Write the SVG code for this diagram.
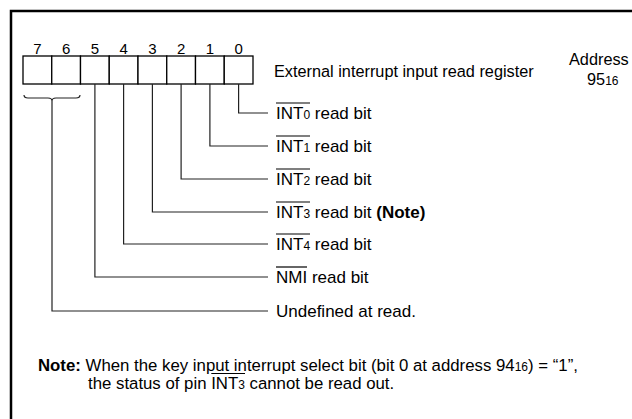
<svg xmlns="http://www.w3.org/2000/svg" width="632" height="419" viewBox="0 0 632 419">
<style>
text{font-family:"Liberation Sans",Arial,sans-serif;font-size:17px;fill:#000}
.d{font-size:15px;text-anchor:middle}
.t{font-size:16.3px}
.n{font-size:16.8px}
.s{font-size:12px}
.b{font-weight:bold}
.ln{stroke:#222;stroke-width:1.2;fill:none}
.cell{fill:#fff;stroke:#000;stroke-width:1.3}
.ob{stroke:#000;stroke-width:1.2}
</style>
<rect width="632" height="419" fill="#fff"/>
<path d="M11,419 V11 H632" fill="none" stroke="#000" stroke-width="2.5"/>
<g id="register">
<rect class="cell" x="23" y="56" width="28.75" height="28"/>
<rect class="cell" x="51.75" y="56" width="28.75" height="28"/>
<rect class="cell" x="80.5" y="56" width="28.75" height="28"/>
<rect class="cell" x="109.25" y="56" width="28.75" height="28"/>
<rect class="cell" x="138" y="56" width="28.75" height="28"/>
<rect class="cell" x="166.75" y="56" width="28.75" height="28"/>
<rect class="cell" x="195.5" y="56" width="28.75" height="28"/>
<rect class="cell" x="224.25" y="56" width="28.75" height="28"/>
<text class="d" x="37.4" y="54">7</text>
<text class="d" x="66.1" y="54">6</text>
<text class="d" x="94.9" y="54">5</text>
<text class="d" x="123.6" y="54">4</text>
<text class="d" x="152.4" y="54">3</text>
<text class="d" x="181.1" y="54">2</text>
<text class="d" x="209.9" y="54">1</text>
<text class="d" x="238.6" y="54">0</text>
<text class="t" x="274" y="77">External interrupt input read register</text>
<text class="t" x="569" y="65">Address</text>
<text class="t" x="587" y="85">95<tspan class="s">16</tspan></text>
</g>
<g id="connectors">
<path class="ln" d="M24,95 q0,3 4,3 H48 q4,0 4,3 q0,-3 4,-3 H76 q4,0 4,-3"/>
<path class="ln" d="M238.6,84 V113 H268"/>
<path class="ln" d="M209.9,84 V146 H268"/>
<path class="ln" d="M181.1,84 V179 H268"/>
<path class="ln" d="M152.4,84 V212 H268"/>
<path class="ln" d="M123.6,84 V244 H268"/>
<path class="ln" d="M94.9,84 V277 H268"/>
<path class="ln" d="M52,101 V311 H268"/>
</g>
<g id="bit0"><text x="276" y="118.5">INT<tspan class="s">0</tspan> read bit</text><line class="ob" x1="276" y1="103" x2="310" y2="103"/></g>
<g id="bit1"><text x="276" y="151.5">INT<tspan class="s">1</tspan> read bit</text><line class="ob" x1="276" y1="136" x2="310" y2="136"/></g>
<g id="bit2"><text x="276" y="184.5">INT<tspan class="s">2</tspan> read bit</text><line class="ob" x1="276" y1="169" x2="310" y2="169"/></g>
<g id="bit3"><text x="276" y="217.5">INT<tspan class="s">3</tspan> read bit <tspan class="b">(Note)</tspan></text><line class="ob" x1="276" y1="202" x2="310" y2="202"/></g>
<g id="bit4"><text x="276" y="249.5">INT<tspan class="s">4</tspan> read bit</text><line class="ob" x1="276" y1="234" x2="310" y2="234"/></g>
<g id="bit5"><text x="276" y="282.5">NMI read bit</text><line class="ob" x1="276" y1="267" x2="307" y2="267"/></g>
<g id="bit76"><text x="276" y="316.5">Undefined at read.</text></g>
<g id="note">
<text class="n" x="38" y="371"><tspan class="b">Note:</tspan> When the key input interrupt select bit (bit 0 at address 94<tspan class="s">16</tspan>) = “1”,</text>
<text class="n" x="88" y="389">the status of pin INT<tspan class="s">3</tspan> cannot be read out.</text>
<line class="ob" x1="211.3" y1="373.5" x2="245" y2="373.5"/>
</g>
</svg>
